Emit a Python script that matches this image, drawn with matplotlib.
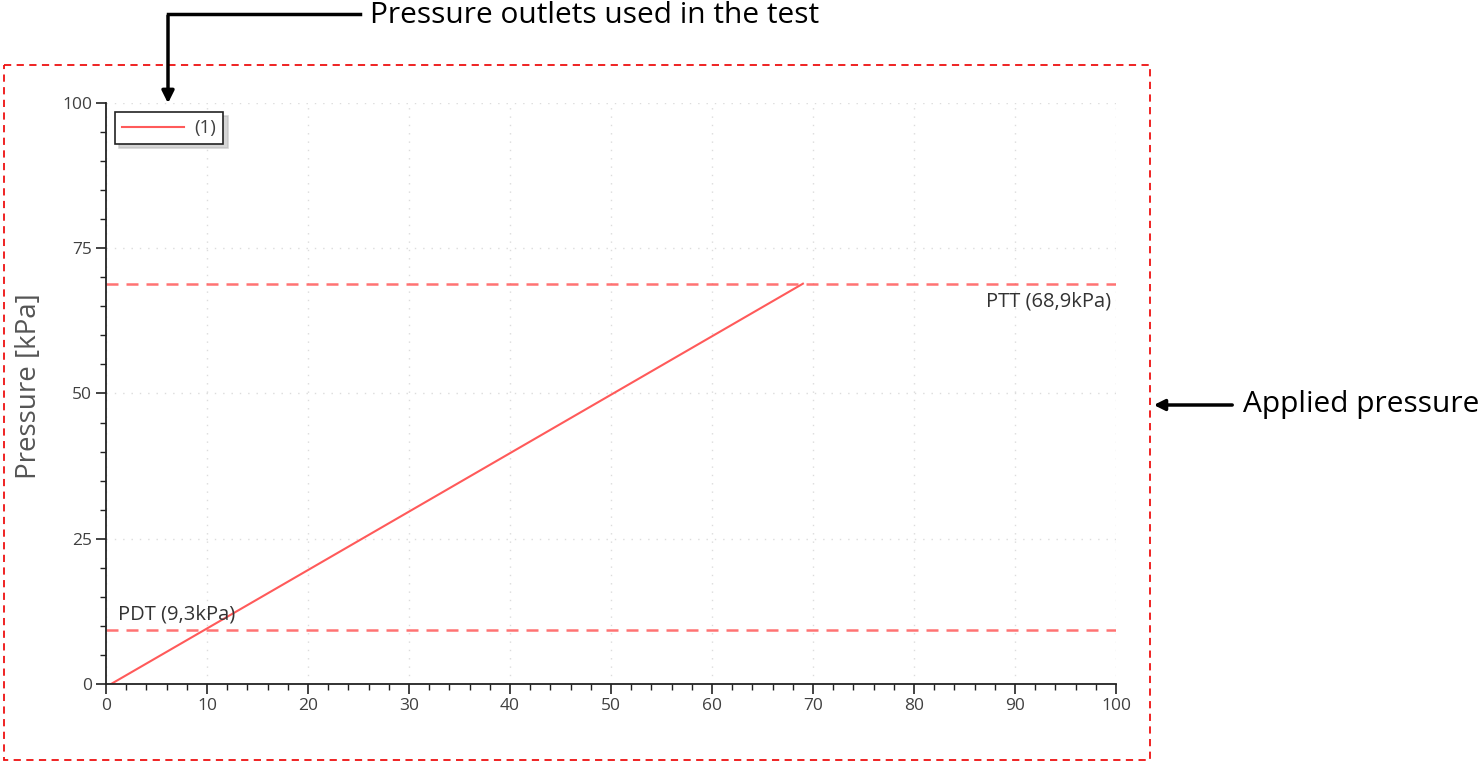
import matplotlib.pyplot as plt
from matplotlib.patches import Rectangle
from matplotlib.ticker import MultipleLocator

# data
line_x = [0.5, 69.0]
line_y = [0.0, 68.9]
ptt = 68.9
pdt = 9.3
ptt_label = "PTT (68,9kPa)"
pdt_label = "PDT (9,3kPa)"
legend_label = "(1)"
y_label = "Pressure [kPa]"
note_top = "Pressure outlets used in the test"
note_right = "Applied pressure"

plt.rcParams['font.family'] = ['Open Sans', 'DejaVu Sans']
red = '#ff5a5a'
grey = '#404040'

fig = plt.figure(figsize=(14.82, 7.62), dpi=100)
W, H = 1482, 762
ax = fig.add_axes([106 / W, 1 - 684 / H, (1116 - 106) / W, (684 - 103) / H])

ax.plot(line_x, line_y, color=red, linewidth=1.5, label=legend_label)
ax.axhline(ptt, color=red, linestyle=(0, (4.8, 3.2)), linewidth=1.8, alpha=0.85)
ax.axhline(pdt, color=red, linestyle=(0, (4.8, 3.2)), linewidth=1.8, alpha=0.85)
ax.text(99.5, ptt - 1.3, ptt_label, ha='right', va='top', fontsize=14.5, color='#333333')
ax.text(1.2, pdt + 0.9, pdt_label, ha='left', va='bottom', fontsize=14.5, color='#333333')

ax.set_xlim(0, 100)
ax.set_ylim(0, 100)
ax.xaxis.set_major_locator(MultipleLocator(10))
ax.xaxis.set_minor_locator(MultipleLocator(2))
ax.yaxis.set_major_locator(MultipleLocator(25))
ax.yaxis.set_minor_locator(MultipleLocator(5))
ax.tick_params(which='major', length=7, width=1.2, color='#222222', labelsize=12.5, labelcolor=grey, pad=3)
ax.tick_params(which='minor', length=4, width=1.0, color='#222222')
ax.grid(True, which='major', linestyle=(0, (1, 5)), color='#dcdcdc', linewidth=1)
for s in ['top', 'right']:
    ax.spines[s].set_visible(False)
for s in ['left', 'bottom']:
    ax.spines[s].set_linewidth(1.3)
    ax.spines[s].set_color('#222222')
ax.set_ylabel(y_label, fontsize=20, color='#555555')
ax.yaxis.set_label_coords(-0.062, 0.513)

leg = ax.legend(loc='upper left', bbox_to_anchor=(0.009, 0.9845), fontsize=13.5, frameon=True,
                fancybox=False, shadow={'color': '#bbbbbb', 'alpha': 0.6, 'ox': 3, 'oy': -3},
                handlelength=3.3, handletextpad=0.55, borderpad=0.38, borderaxespad=0,
                labelcolor=grey)
leg.get_frame().set_edgecolor('#222222')
leg.get_frame().set_linewidth(1.2)

# annotation layer in pixel coords
ov = fig.add_axes([0, 0, 1, 1], facecolor='none')
ov.set_xlim(0, W)
ov.set_ylim(H, 0)
ov.axis('off')
ov.add_patch(Rectangle((4, 65), 1146, 695, fill=False, edgecolor='#ee1111',
                       linestyle=(0, (4, 3)), linewidth=1.3))
ov.plot([360, 168], [14, 14], color='black', linewidth=2.5)
ov.annotate('', xy=(168, 106), xytext=(168, 13),
            arrowprops=dict(arrowstyle='-|>', color='black', linewidth=2.5, mutation_scale=18))
ov.text(370, 23, note_top, fontsize=21.5, va='baseline', ha='left', color='black')
ov.annotate('', xy=(1151, 405), xytext=(1235, 405),
            arrowprops=dict(arrowstyle='-|>', color='black', linewidth=2.5, mutation_scale=16))
ov.text(1243, 412, note_right, fontsize=21.5, va='baseline', ha='left', color='black')

fig.savefig('out.png', dpi=100)
